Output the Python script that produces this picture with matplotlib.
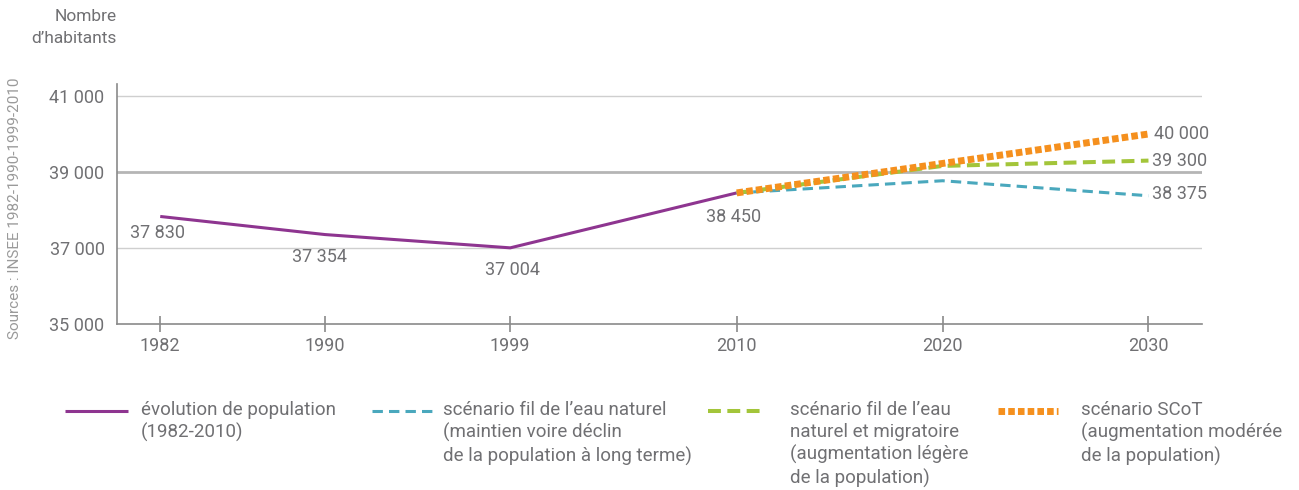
import matplotlib.pyplot as plt
from matplotlib.lines import Line2D

plt.rcParams['font.family'] = ['Roboto', 'DejaVu Sans']

# data
years_hist = [1982, 1990, 1999, 2010]
pop_hist = [37830, 37354, 37004, 38450]
hist_labels = ['37 830', '37 354', '37 004', '38 450']

years_proj = [2010, 2020, 2030]
pop_fil_eau = [38450, 38770, 38375]
pop_migratoire = [38450, 39160, 39300]
pop_scot = [38450, 39225, 40000]
end_labels = ['38 375', '39 300', '40 000']

x_ticks = [1982, 1990, 1999, 2010, 2020, 2030]
y_ticks = [35000, 37000, 39000, 41000]
y_ticklabels = ['35 000', '37 000', '39 000', '41 000']

legend_texts = [
    'évolution de population\n(1982-2010)',
    'scénario fil de l\u2019eau naturel\n(maintien voire déclin\nde la population à long terme)',
    'scénario fil de l\u2019eau\nnaturel et migratoire\n(augmentation légère\nde la population)',
    'scénario SCoT\n(augmentation modérée\nde la population)',
]

TEXT = '#707073'
PURPLE = '#8e3590'
BLUE = '#4aa8bd'
GREEN = '#a3c53a'
ORANGE = '#f5901e'

W, H = 1299, 490
fig = plt.figure(figsize=(W / 100, H / 100), dpi=100)
ax = fig.add_axes([117 / W, 1 - 324 / H, (1202 - 117) / W, (324 - 84) / H])

ax.set_xlim(1979.9, 2032.6)
ax.set_ylim(35000, 41316)

# grid lines
for y in (37000, 41000):
    ax.axhline(y, color='#cfcfcf', lw=1.0, zorder=1)
ax.axhline(39000, color='#b5b5b5', lw=2.0, zorder=1)

styles = {
    'hist': dict(color=PURPLE, lw=2.2, solid_capstyle='butt'),
    'fil': dict(color=BLUE, lw=2.2, dashes=(3.4, 2.0)),
    'mig': dict(color=GREEN, lw=2.9, dashes=(3.2, 1.6)),
    'scot': dict(color=ORANGE, lw=5.0, dashes=(0.95, 0.45)),
}

ax.plot(years_hist, pop_hist, zorder=3, **styles['hist'])
ax.plot(years_proj, pop_fil_eau, zorder=4, **styles['fil'])
ax.plot(years_proj, pop_migratoire, zorder=5, **styles['mig'])
ax.plot(years_proj, pop_scot, zorder=6, **styles['scot'])

# point labels
hist_offsets = [(-3, -17), (-5, -22), (2, -22), (-3, -24)]
for x, y, s, off in zip(years_hist, pop_hist, hist_labels, hist_offsets):
    ax.annotate(s, (x, y), xytext=off, textcoords='offset pixels',
                ha='center', va='center', fontsize=13, color=TEXT)

end_values = [pop_fil_eau[-1], pop_migratoire[-1], pop_scot[-1]]
end_offsets = [(4, 2), (4, 0), (6, 0)]
for y, s, off in zip(end_values, end_labels, end_offsets):
    ax.annotate(s, (years_proj[-1], y), xytext=off, textcoords='offset pixels',
                ha='left', va='center', fontsize=13, color=TEXT)

# axes styling
for side in ('top', 'right'):
    ax.spines[side].set_visible(False)
for side in ('left', 'bottom'):
    ax.spines[side].set_color('#8a8a8a')
    ax.spines[side].set_linewidth(1.2)

ax.set_xticks(x_ticks)
ax.set_xticklabels([str(x) for x in x_ticks])
ax.set_yticks(y_ticks)
ax.set_yticklabels(y_ticklabels)
ax.tick_params(axis='x', direction='inout', length=12, width=1.2,
               color='#8a8a8a', labelsize=13, labelcolor=TEXT, pad=3)
ax.tick_params(axis='y', length=0, labelsize=13, labelcolor=TEXT, pad=9)

# titles
fig.text(117 / W, 1 - 9 / H, 'Nombre\nd\u2019habitants', ha='right', va='top',
         fontsize=12.5, color=TEXT, linespacing=1.6)
fig.text(15 / W, 1 - 208 / H, 'Sources : INSEE 1982-1990-1999-2010',
         rotation=90, ha='center', va='center', fontsize=11, color='#9a9a9a')

# legend drawn manually below the plot
handle_x = [(65, 128), (372, 432), (708, 764), (998, 1058)]
text_x = [141, 443, 790, 1081]
keys = ['hist', 'fil', 'mig', 'scot']
row_y = 1 - 411 / H
for (x0, x1), tx, key, txt in zip(handle_x, text_x, keys, legend_texts):
    fig.add_artist(Line2D([x0 / W, x1 / W], [row_y, row_y],
                          transform=fig.transFigure, **styles[key]))
    fig.text(tx / W, 1 - 401 / H, txt, ha='left', va='top', fontsize=13.5,
             color=TEXT, linespacing=1.28)

fig.savefig('out.png', dpi=100)
